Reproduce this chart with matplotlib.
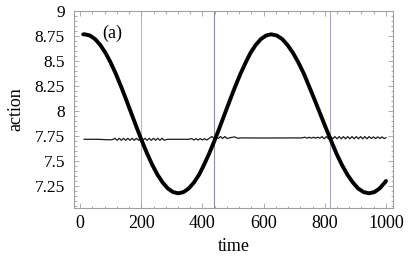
import numpy as np
import matplotlib
matplotlib.use('Agg')
import matplotlib.pyplot as plt
from matplotlib.ticker import MultipleLocator

# thick curve (slow oscillation of the action)
slow_t = [10, 15, 32, 49, 66, 83, 100, 117, 134, 151, 168, 185, 202, 219, 236,
          253, 270, 287, 304, 321,
          338, 355, 372, 389, 405, 422, 439, 456, 473, 490, 507, 524, 541,
          557, 574, 591, 608, 625,
          643, 661, 678, 696, 714, 732, 749, 767, 785, 803, 821, 838, 856,
          874, 892, 909, 927, 945,
          962, 979, 996, 1000]
slow_v = [8.766, 8.767, 8.755, 8.719, 8.660, 8.581, 8.483, 8.370, 8.244, 8.110,
          7.972, 7.834, 7.700, 7.575, 7.461, 7.363, 7.284, 7.225, 7.189, 7.177,
          7.189, 7.225, 7.284, 7.363, 7.461, 7.575, 7.700, 7.834, 7.972, 8.110,
          8.244, 8.370, 8.483, 8.581, 8.660, 8.719, 8.755, 8.767,
          8.755, 8.719, 8.660, 8.581, 8.483, 8.370, 8.244, 8.110, 7.972, 7.834,
          7.700, 7.575, 7.461, 7.363, 7.284, 7.225, 7.189, 7.177,
          7.189, 7.225, 7.284, 7.300]

# thin curve (nearly constant action with small ripples)
fast_t = [13, 60, 85, 100, 108,
          114, 121, 128, 135, 142, 149, 156, 163, 170, 177, 184, 191,
          198, 205, 212, 219, 226, 233, 240, 247, 254, 261, 268, 275,
          285, 355,
          365, 372, 379, 386, 393, 400, 407, 414, 421,
          431, 438, 445, 452, 459, 466, 473, 480,
          490, 505, 515, 530, 600, 725,
          735, 742, 749, 756, 763, 770, 777, 784,
          791, 798, 805, 812, 819, 826, 833, 840, 847, 854, 861, 868,
          875, 882, 889, 896, 903, 910, 917, 924, 931, 938, 945,
          952, 959, 966, 973, 980, 987, 994, 1000]
fast_v = [7.717, 7.717, 7.713, 7.712, 7.716,
          7.727, 7.707, 7.727, 7.707, 7.727, 7.707, 7.727, 7.707,
          7.727, 7.707, 7.727, 7.707, 7.727, 7.707, 7.727, 7.707,
          7.727, 7.707, 7.727, 7.707, 7.727, 7.707, 7.727, 7.707,
          7.717, 7.717,
          7.724, 7.710, 7.724, 7.710, 7.724, 7.710, 7.724, 7.710, 7.724,
          7.745, 7.725, 7.745, 7.725, 7.745, 7.725, 7.745, 7.725,
          7.733, 7.741, 7.728, 7.731, 7.730, 7.731,
          7.738, 7.728, 7.738, 7.728, 7.738, 7.728, 7.738, 7.728,
          7.744, 7.722, 7.744, 7.722, 7.744, 7.722, 7.744, 7.722,
          7.744, 7.722, 7.744, 7.722, 7.744, 7.722, 7.744, 7.722,
          7.744, 7.722, 7.744, 7.722, 7.744, 7.722, 7.744,
          7.725, 7.741, 7.725, 7.741, 7.725, 7.741, 7.725, 7.733]

# vertical marker lines
vlines_t = [199, 438, 817]
vlines_c = ['#b8b8c4', '#8a8aa4', '#a8a8d8']

xticks = [0, 200, 400, 600, 800, 1000]
yticks = [7.25, 7.5, 7.75, 8, 8.25, 8.5, 8.75, 9]
ytick_labels = ['7.25', '7.5', '7.75', '8', '8.25', '8.5', '8.75', '9']

plt.rcParams['font.family'] = ['Liberation Serif', 'DejaVu Serif']

fig = plt.figure(figsize=(4.15, 2.57), dpi=100)
ax = fig.add_axes([74 / 415, 1 - 207.5 / 257, 319 / 415, 196.5 / 257])

for t, c in zip(vlines_t, vlines_c):
    ax.axvline(t, color=c, lw=0.8, zorder=1)

ax.plot(fast_t, fast_v, color='#1a1a1a', lw=0.9, zorder=2)
ax.plot(slow_t, slow_v, color='black', lw=2.8, solid_capstyle='round',
        solid_joinstyle='round', zorder=3)

ax.text(105, 8.78, '(a)', fontsize=13, ha='center', va='center')

ax.set_xlim(-20, 1023)
ax.set_ylim(7.035, 9)
ax.set_xticks(xticks)
ax.set_xticklabels([str(x) for x in xticks])
ax.set_yticks(yticks)
ax.set_yticklabels(ytick_labels)
ax.xaxis.set_minor_locator(MultipleLocator(40))
ax.yaxis.set_minor_locator(MultipleLocator(0.05))

for s in ax.spines.values():
    s.set_color('#a0a0a0')
    s.set_linewidth(0.8)
ax.tick_params(which='both', direction='in', top=True, right=True,
               color='#a0a0a0', width=0.6)
ax.tick_params(which='major', length=3.5)
ax.tick_params(which='minor', length=1.8)
ax.tick_params(axis='x', labelsize=13, pad=5.4)
ax.tick_params(axis='y', labelsize=12.5, pad=6.5)

ax.set_xlabel('time', fontsize=13)
ax.set_ylabel('action', fontsize=13)
ax.xaxis.set_label_coords(0.5, -0.155)
ax.yaxis.set_label_coords(-0.154, 0.5)

fig.savefig('out.png', dpi=100)
